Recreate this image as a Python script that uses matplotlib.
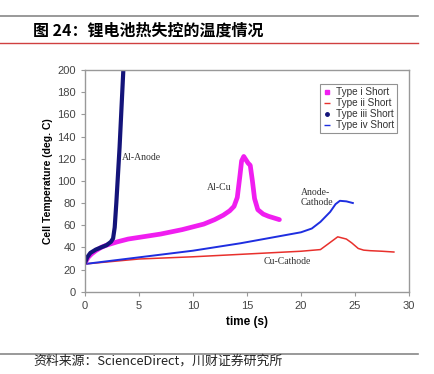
"""Cell temperature during thermal runaway, four short types."""

import matplotlib.pyplot as plt
from matplotlib.lines import Line2D

plt.rcParams['font.family'] = ['Liberation Sans', 'DejaVu Sans']

# Type i Short (Al-Cu)
t1 = [0, 0.3, 0.6, 1, 1.5, 2, 3, 4, 5, 6, 7, 8, 9, 10, 11, 12, 12.8, 13.4, 13.8,
      14.1, 14.35, 14.5, 14.7, 14.9, 15.1, 15.3, 15.5, 15.7, 16, 16.5, 17, 18]
y1 = [26, 31, 34, 37, 40, 42, 45, 47.5, 49, 50.5, 52, 54, 56, 58.5, 61, 65, 69, 73, 77,
      85, 105, 118, 122, 119, 116, 114, 100, 84, 74, 70, 68, 65]
# Type ii Short (Cu-Cathode)
t2 = [0, 5, 10, 14.4, 20, 21.8, 22.5, 23.4, 24.2, 24.7, 25.3, 25.8, 26.4, 27.5, 28.6]
y2 = [25, 29.5, 31.5, 33.7, 36.5, 38, 43, 49.5, 47.5, 44, 39, 37.5, 37, 36.5, 35.8]
# Type iii Short (Al-Anode)
t3 = [0, 0.2, 0.5, 1, 1.5, 2, 2.4, 2.6, 2.75, 2.9, 3.05, 3.2, 3.35, 3.55]
y3 = [26, 31, 35, 38, 40, 42, 45, 48, 58, 80, 105, 130, 160, 200]
# Type iv Short (Anode-Cathode)
t4 = [0, 5, 10, 14.4, 20, 21, 21.8, 22.7, 23.2, 23.6, 24.2, 24.8]
y4 = [25, 31, 37, 43.7, 53.6, 57, 63, 72, 79, 82, 81.5, 80]

legend_labels = ['Type i Short', 'Type ii Short', 'Type iii Short', 'Type iv Short']

c_i = '#f01ef0'
c_ii = '#e8302c'
c_iii = '#14147a'
c_iv = '#1e2ee0'

fig = plt.figure(figsize=(4.34, 3.74), dpi=100, facecolor='w')

# header and footer rules
fig.add_artist(Line2D([0, 0.962], [1 - 16 / 374] * 2, color='#888888', lw=1.2))
fig.add_artist(Line2D([0, 0.962], [1 - 43 / 374] * 2, color='#d04040', lw=1.0))
fig.add_artist(Line2D([0, 0.962], [1 - 354 / 374] * 2, color='#888888', lw=1.2))
fig.text(33 / 434, 1 - 31 / 374, '图 24：锂电池热失控的温度情况', fontsize=11.5,
         fontweight='bold', va='center', ha='left',
         family=['Noto Sans CJK SC', 'DejaVu Sans'])
fig.text(33 / 434, 1 - 361 / 374, '资料来源：ScienceDirect，川财证券研究所', fontsize=9.3,
         style='italic', va='center', ha='left', color='#222222',
         family=['Noto Sans CJK SC', 'DejaVu Sans'])

ax = fig.add_axes([85 / 434, 82.3 / 374, 324 / 434, 221.7 / 374])
ax.plot(t2, y2, color=c_ii, lw=1.1)
ax.plot(t4, y4, color=c_iv, lw=1.4)
ax.plot(t1, y1, color=c_i, lw=3.4, solid_capstyle='round')
ax.plot(t3, y3, color=c_iii, lw=3.0, solid_capstyle='round')

ax.set_xlim(0, 30)
ax.set_ylim(0, 200)
ax.set_xticks(range(0, 31, 5))
ax.set_yticks(range(0, 201, 20))
for s in ax.spines.values():
    s.set_color('#999999')
    s.set_linewidth(1.0)
ax.tick_params(colors='#999999', labelcolor='#444444', labelsize=8, length=3)
ax.set_xlabel('time (s)', fontsize=8.5, fontweight='bold', labelpad=4)
ax.set_ylabel('Cell Temperature (deg. C)', fontsize=7.5, fontweight='bold', labelpad=3)

# curve annotations
serif = ['Liberation Serif', 'DejaVu Serif']
ax.text(3.4, 121.5, 'Al-Anode', fontsize=7, family=serif, color='#333333', va='center')
ax.text(12.4, 94, 'Al-Cu', fontsize=7, family=serif, color='#333333', va='center', ha='center')
ax.text(20.0, 85, 'Anode-\nCathode', fontsize=7, family=serif, color='#333333',
        va='center', linespacing=1.1)
ax.text(18.7, 27.5, 'Cu-Cathode', fontsize=7, family=serif, color='#333333',
        va='center', ha='center')

handles = [
    Line2D([], [], ls='none', marker='s', ms=3, color=c_i),
    Line2D([], [], ls='none', marker='_', ms=4, color=c_ii),
    Line2D([], [], ls='none', marker='o', ms=2.5, color=c_iii),
    Line2D([], [], ls='none', marker='_', ms=4, color=c_iv),
]
leg = ax.legend(handles, legend_labels, loc='upper right', bbox_to_anchor=(0.963, 0.935),
                fontsize=7.2, frameon=True, fancybox=False, handlelength=0.8,
                handletextpad=0.5, borderpad=0.3, labelspacing=0.1, borderaxespad=0)
leg.get_frame().set_edgecolor('#777777')
leg.get_frame().set_linewidth(0.8)
for txt in leg.get_texts():
    txt.set_color('#333333')

plt.savefig('out.png', dpi=100)
